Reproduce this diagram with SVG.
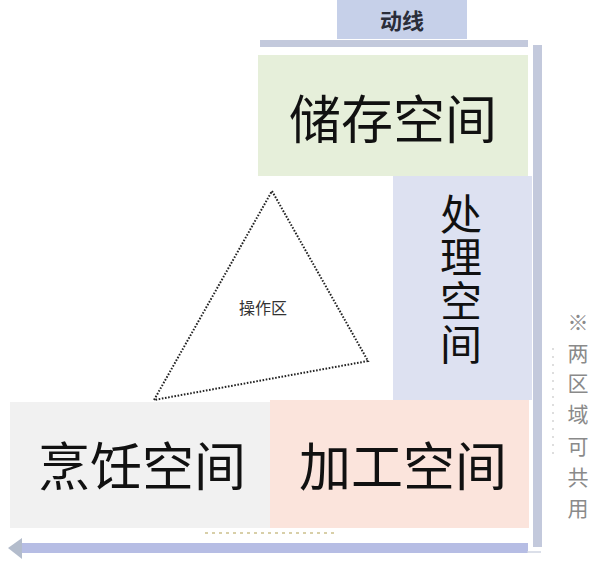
<svg xmlns="http://www.w3.org/2000/svg" width="600" height="566" viewBox="0 0 600 566">
<style>
.big{font-family:"Noto Sans CJK SC","Noto Sans",sans-serif;font-size:52px;fill:#111;text-anchor:middle}
.vert{font-family:"Noto Sans CJK SC","Noto Sans",sans-serif;font-size:42px;fill:#111;writing-mode:vertical-rl;letter-spacing:1.5px}
.note{font-family:"Noto Sans CJK SC","Noto Sans",sans-serif;font-size:21px;fill:#8a8a8a;text-anchor:middle}
.bar{fill:#c3c9dc}
</style>
<rect width="600" height="566" fill="#ffffff"/>
<g id="connectors">
  <rect class="bar" x="260" y="40" width="268" height="7"/>
  <rect class="bar" x="533" y="45" width="9" height="502"/>
  <rect x="20" y="543" width="508" height="10" fill="#b6bde4"/>
  <polygon points="8,548 22,538 22,559" fill="#b3bccc"/>
  <line x1="527" y1="552" x2="541" y2="552" stroke="#cfd4e2" stroke-width="1.5"/>
</g>
<g id="node-dongxian">
  <rect x="337" y="0" width="130" height="39" fill="#c6d0e9"/>
  <text x="402" y="29" font-family="'Noto Sans CJK SC','Noto Sans',sans-serif" font-size="22" font-weight="bold" fill="#2a2d3a" text-anchor="middle">动线</text>
</g>
<g id="node-storage">
  <rect x="258" y="55" width="270" height="121" fill="#e6efda"/>
  <text class="big" x="393" y="139">储存空间</text>
</g>
<g id="node-process">
  <rect x="393" y="176" width="139" height="224" fill="#dde1f1"/>
  <text class="vert" x="461" y="193">处理空间</text>
</g>
<g id="node-cooking">
  <rect x="10" y="402" width="262" height="126" fill="#f1f1f1"/>
  <text class="big" x="142" y="486">烹饪空间</text>
</g>
<g id="node-prep">
  <rect x="270" y="400" width="259" height="128" fill="#fbe4dc"/>
  <text class="big" x="403" y="486">加工空间</text>
</g>
<line x1="205" y1="533" x2="335" y2="533" stroke="#d8cfa8" stroke-width="2" stroke-dasharray="3 4"/>
<g id="node-operation">
  <polygon points="272,191 368,361 154,400" fill="none" stroke="#222" stroke-width="2" stroke-dasharray="1.6 1.6"/>
  <text x="263" y="314" font-family="'Noto Sans CJK SC','Noto Sans',sans-serif" font-size="16" fill="#333" text-anchor="middle">操作区</text>
</g>
<g id="node-note">
  <line x1="553" y1="348" x2="553" y2="460" stroke="#d4d4d4" stroke-width="1.5" stroke-dasharray="2 6"/>
  <text class="note" x="578" y="330">※</text>
  <text class="note" x="578" y="361">两</text>
  <text class="note" x="578" y="391">区</text>
  <text class="note" x="578" y="422">域</text>
  <text class="note" x="578" y="454">可</text>
  <text class="note" x="578" y="485">共</text>
  <text class="note" x="578" y="516">用</text>
</g>
</svg>
